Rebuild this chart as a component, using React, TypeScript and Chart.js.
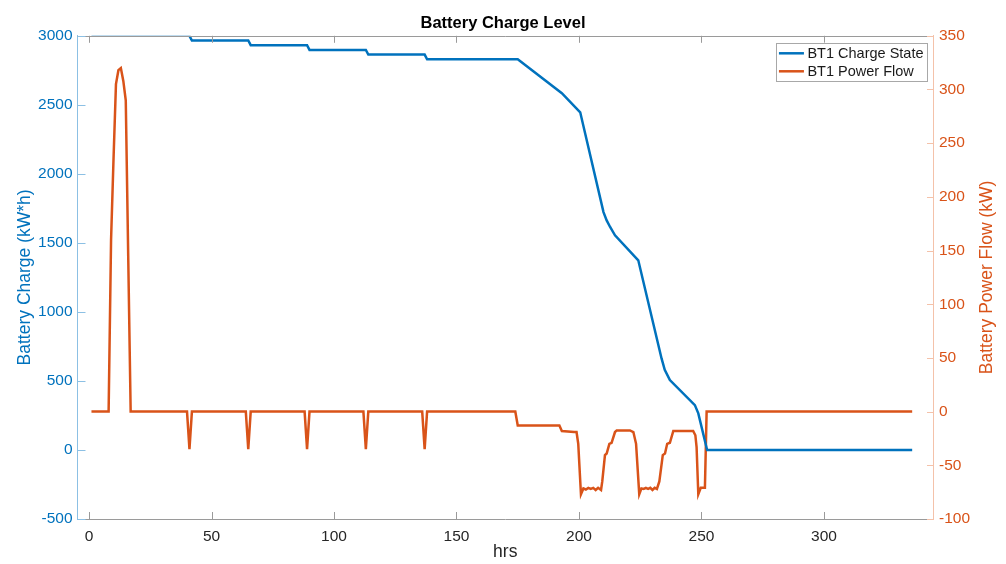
import React, { useEffect, useRef } from "react";
import { Chart, registerables } from "chart.js";

Chart.register(...registerables);

// ---- data ----
const CHARGE_HOURS = [1, 41, 42, 65, 66, 89, 90, 113, 114, 137, 138, 175, 193, 200.5, 210, 211.3, 212.7, 214.7, 224.2, 233.7, 235, 237.1, 247.3, 248.7, 252.3, 336];
const CHARGE_KWH = [3000, 3000, 2966, 2966, 2932, 2932, 2898, 2898, 2864, 2864, 2830, 2830, 2584, 2446, 1723, 1663, 1615, 1555, 1374, 663, 580, 506, 325, 265, 0, 0];

const POWER_HOURS = [
  1, 8, 9, 10, 11, 12, 13, 14, 15, 16, 17,
  40, 41, 42, 64, 65, 66, 88, 89, 90, 112, 113, 114, 136, 137, 138,
  174, 175, 192, 193, 198, 199, 199.7, 200.8, 201.8, 202.8, 203.8, 204.8, 205.8, 206.8, 207.8, 209, 209.5,
  210.6, 211.3, 212.4, 213.3, 214.7, 215.4, 220.8, 222.2, 223.3, 224.6, 225.5, 226.4, 227.3, 228.2, 229.1,
  230, 230.9, 231.8, 232.8, 234.2, 235.1, 236, 237.1, 238.5, 246.6, 247.5, 248, 248.7, 249.7, 251.4, 252.1, 336,
];
const POWER_KW = [
  0, 0, 160, 235, 305, 318, 320, 308, 290, 145, 0,
  0, -35, 0, 0, -35, 0, 0, -35, 0, 0, -35, 0, 0, -35, 0,
  0, -13, -13, -18, -19, -19, -30, -77, -71.5, -72.5, -71, -72, -71, -73, -71, -73, -65,
  -40.5, -39, -30, -29, -19, -17.5, -17.5, -19, -30, -77, -71.5, -72, -71, -72, -71,
  -73, -71, -72, -65, -40.5, -39, -30, -29, -18, -18, -22, -33, -77, -71, -71, 0, 0,
];

const SERIES_LABELS = ["BT1 Charge State", "BT1 Power Flow"];
const TITLE = "Battery Charge Level";
const X_TITLE = "hrs";
const Y1_TITLE = "Battery Charge (kW*h)";
const Y2_TITLE = "Battery Power Flow (kW)";

const X_RANGE = [-4.7, 344.5];
const X_TICKS = [0, 50, 100, 150, 200, 250, 300];
const Y1_RANGE = [-500, 3000];
const Y1_TICKS = [-500, 0, 500, 1000, 1500, 2000, 2500, 3000];
const Y2_RANGE = [-100, 350];
const Y2_TICKS = [-100, -50, 0, 50, 100, 150, 200, 250, 300, 350];

// ---- styles ----
const BLUE = "#0072BD";
const ORANGE = "#D95319";
const FONT = "'Liberation Sans', Arial, Helvetica, sans-serif";
const GRAY_AXIS = "#9a9a9a";
const BLUE_AXIS = "#8cc0e4";
const ORANGE_AXIS = "#f4c2aa";

const framePlugin = {
  id: "matlabFrame",
  afterDatasetsDraw(chart: any) {
    const { ctx, chartArea: a, scales } = chart;
    ctx.save();
    ctx.lineWidth = 1;
    ctx.strokeStyle = GRAY_AXIS;
    ctx.beginPath();
    ctx.moveTo(a.left, Math.round(a.top) + 0.5);
    ctx.lineTo(a.right, Math.round(a.top) + 0.5);
    ctx.stroke();
    for (const t of scales.x.ticks) {
      const px = Math.round(scales.x.getPixelForValue(t.value)) + 0.5;
      ctx.beginPath();
      ctx.moveTo(px, a.bottom);
      ctx.lineTo(px, a.bottom - 7);
      ctx.moveTo(px, a.top);
      ctx.lineTo(px, a.top + 7);
      ctx.stroke();
    }
    ctx.strokeStyle = BLUE_AXIS;
    for (const t of scales.y.ticks) {
      const py = Math.round(scales.y.getPixelForValue(t.value)) + 0.5;
      ctx.beginPath();
      ctx.moveTo(a.left, py);
      ctx.lineTo(a.left + 8, py);
      ctx.stroke();
    }
    ctx.strokeStyle = ORANGE_AXIS;
    for (const t of scales.y2.ticks) {
      const py = Math.round(scales.y2.getPixelForValue(t.value)) + 0.5;
      ctx.beginPath();
      ctx.moveTo(a.right, py);
      ctx.lineTo(a.right - 6, py);
      ctx.stroke();
    }
    ctx.restore();
  },
  afterDraw(chart: any) {
    // right axis title, reading bottom-to-top as in the reference
    const { ctx, chartArea: a } = chart;
    ctx.save();
    ctx.translate(987.5, (a.top + a.bottom) / 2);
    ctx.rotate(-Math.PI / 2);
    ctx.font = `17.5px ${FONT}`;
    ctx.fillStyle = ORANGE;
    ctx.textAlign = "center";
    ctx.textBaseline = "middle";
    ctx.fillText(Y2_TITLE, 0, 0);
    ctx.restore();
  },
};

const legendPlugin = {
  id: "insideLegend",
  afterDraw(chart: any) {
    const { ctx, chartArea: a } = chart;
    const ds = chart.data.datasets;
    ctx.save();
    ctx.font = `14.5px ${FONT}`;
    let maxW = 0;
    ds.forEach((d: any) => {
      maxW = Math.max(maxW, ctx.measureText(d.label).width);
    });
    const lineLen = 25;
    const padL = 2.5;
    const gap = 3.5;
    const padR = 3.5;
    const rowH = 18;
    const w = padL + lineLen + gap + maxW + padR;
    const h = 38;
    const right = a.right - 6;
    const left = right - w;
    const top = a.top + 7;
    ctx.fillStyle = "#ffffff";
    ctx.fillRect(left, top, w, h);
    ctx.strokeStyle = "#a8a8a8";
    ctx.lineWidth = 1;
    ctx.strokeRect(Math.round(left) + 0.5, Math.round(top) + 0.5, Math.round(w), Math.round(h));
    ds.forEach((d: any, i: number) => {
      const cy = top + 10.5 + i * rowH;
      ctx.strokeStyle = d.borderColor;
      ctx.lineWidth = 2.5;
      ctx.beginPath();
      ctx.moveTo(left + padL, cy);
      ctx.lineTo(left + padL + lineLen, cy);
      ctx.stroke();
      ctx.fillStyle = "#1a1a1a";
      ctx.textBaseline = "middle";
      ctx.textAlign = "left";
      ctx.fillText(d.label, left + padL + lineLen + gap, cy + 0.5);
    });
    ctx.restore();
  },
};

const setTicks = (vals: number[]) => (s: any) => {
  s.ticks = vals.map((v) => ({ value: v }));
};
const plain = (v: any) => String(v);

export default function App() {
  const ref = useRef<HTMLCanvasElement | null>(null);

  useEffect(() => {
    if (!ref.current) return;
    const chargePts = CHARGE_HOURS.map((x, i) => ({ x, y: CHARGE_KWH[i] }));
    const powerPts = POWER_HOURS.map((x, i) => ({ x, y: POWER_KW[i] }));
    const chart = new Chart(ref.current, {
      type: "line",
      data: {
        datasets: [
          {
            label: SERIES_LABELS[0],
            data: chargePts,
            yAxisID: "y",
            borderColor: BLUE,
            backgroundColor: BLUE,
            borderWidth: 2.5,
            pointRadius: 0,
            tension: 0,
          },
          {
            label: SERIES_LABELS[1],
            data: powerPts,
            yAxisID: "y2",
            borderColor: ORANGE,
            backgroundColor: ORANGE,
            borderWidth: 2.5,
            pointRadius: 0,
            tension: 0,
          },
        ],
      },
      options: {
        animation: false,
        responsive: false,
        layout: { padding: 0 },
        plugins: {
          legend: { display: false },
          tooltip: { enabled: false },
          title: {
            display: true,
            text: TITLE,
            color: "#000",
            font: { family: FONT, size: 16.5, weight: "bold" },
            padding: { top: 14, bottom: 2 },
          },
        },
        scales: {
          x: {
            type: "linear",
            min: X_RANGE[0],
            max: X_RANGE[1],
            afterBuildTicks: setTicks(X_TICKS),
            grid: { display: false, drawTicks: false },
            border: { display: true, color: GRAY_AXIS, width: 1 },
            ticks: {
              color: "#262626",
              font: { family: FONT, size: 15.5 },
              padding: 8,
              maxRotation: 0,
              autoSkip: false,
              callback: plain,
            },
            title: {
              display: true,
              text: X_TITLE,
              color: "#262626",
              font: { family: FONT, size: 17.5 },
              padding: { top: 0, bottom: 1 },
            },
            afterFit: (s: any) => {
              s.height = 45;
            },
          },
          y: {
            type: "linear",
            position: "left",
            min: Y1_RANGE[0],
            max: Y1_RANGE[1],
            afterBuildTicks: setTicks(Y1_TICKS),
            grid: { display: false, drawTicks: false },
            border: { display: true, color: BLUE_AXIS, width: 1 },
            ticks: {
              color: BLUE,
              font: { family: FONT, size: 15.5 },
              padding: 5,
              autoSkip: false,
              callback: plain,
            },
            title: {
              display: true,
              text: Y1_TITLE,
              color: BLUE,
              font: { family: FONT, size: 17.5 },
              padding: { top: 15, bottom: 0 },
            },
            afterFit: (s: any) => {
              s.width = 77.5;
            },
          },
          y2: {
            type: "linear",
            position: "right",
            min: Y2_RANGE[0],
            max: Y2_RANGE[1],
            afterBuildTicks: setTicks(Y2_TICKS),
            grid: { display: false, drawTicks: false },
            border: { display: true, color: ORANGE_AXIS, width: 1 },
            ticks: {
              color: ORANGE,
              font: { family: FONT, size: 15.5 },
              padding: 6,
              autoSkip: false,
              callback: plain,
            },
            title: { display: false },
            afterFit: (s: any) => {
              s.width = 73;
            },
          },
        },
      },
      plugins: [framePlugin, legendPlugin],
    });
    return () => chart.destroy();
  }, []);

  return (
    <div style={{ position: "fixed", left: 0, top: 0, width: 1006, height: 564, background: "#fff" }}>
      <canvas ref={ref} width={1006} height={564} style={{ width: 1006, height: 564, display: "block" }} />
    </div>
  );
}
